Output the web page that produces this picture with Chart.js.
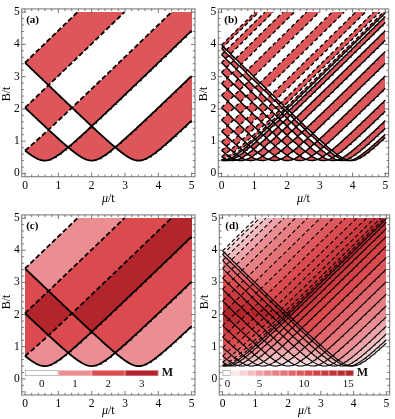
<!DOCTYPE html>
<html><head><meta charset="utf-8">
<script src="https://cdn.jsdelivr.net/npm/chart.js@4.4.1/dist/chart.umd.min.js"></script>
<style>
html,body{margin:0;padding:0;background:#fff;width:395px;height:419px;overflow:hidden}
canvas{position:absolute;display:block}
</style></head><body>
<canvas id="ca" width="197" height="206" style="left:0;top:0"></canvas>
<canvas id="cb" width="198" height="206" style="left:197px;top:0"></canvas>
<canvas id="cc" width="197" height="213" style="left:0;top:206px"></canvas>
<canvas id="cd" width="198" height="213" style="left:197px;top:206px"></canvas>
<script>
// ---------- data ----------
const muTicks = [0, 1, 2, 3, 4, 5];
const bTicks = [0, 1, 2, 3, 4, 5];
const gapDelta = 0.4;                       // lowest point of every boundary curve (B/t)
const bandsFew = [0.59, 2.00, 3.41];        // subband bottoms, panels (a),(c)
const bandsMany = [0.04, 0.15, 0.34, 0.59, 0.89, 1.24, 1.61, 2.00,
                   2.39, 2.76, 3.11, 3.41, 3.66, 3.85, 3.96]; // panels (b),(d)
const cbarTextC = ['0', '1', '2', '3'];
const cbarPosC = [0.5, 1.5, 2.5, 3.5];
const cbarTextD = ['0', '5', '10', '15'];
const cbarPosD = [0.15, 1.13, 2.49, 3.84];
const panelNames = ['(a)', '(b)', '(c)', '(d)'];

Chart.defaults.font.family = "'Liberation Serif', 'DejaVu Serif', serif";

// ---------- colours ----------
const parityRed = [221, 86, 90];
const rampStops = [[255,255,255],[234,142,147],[218,74,78],[178,38,43]];
function ramp(t){
  const s = Math.max(0, Math.min(1, t)) * 3;
  const i = Math.min(2, Math.floor(s)); const f = s - i;
  const a = rampStops[i], b = rampStops[i+1];
  return [0,1,2].map(k => Math.round(a[k] + (b[k]-a[k]) * f));
}
const rgb = c => `rgb(${c[0]},${c[1]},${c[2]})`;

// ---------- phase boundaries ----------
function muSamples(extra, end){
  const arr = [];
  for (let i = 0; i <= 200; i++){ const m = i * 0.025; if (m <= end) arr.push(m); }
  extra.forEach(v => { if (v > 0 && v < end) arr.push(v); });
  if (end < 5) arr.push(end);
  return arr.sort((a,b) => a-b);
}
const solidCurve = eps => muSamples([eps], 5).map(m => ({x:m, y:Math.hypot(gapDelta, m-eps)})).filter(p => p.y <= 5.0001);
const dashedCurve = eps => {
  const end = Math.sqrt(25 - gapDelta*gapDelta) - eps;
  return muSamples([], Math.min(5, end)).map(m => ({x:m, y:Math.min(5, Math.hypot(gapDelta, m+eps))}));
};
function countM(mu, B, bands){
  const N = bands.length; let M = 0;
  for (let n = 0; n < N; n++){
    const lo = Math.hypot(gapDelta, mu - bands[n]);
    const hi = Math.hypot(gapDelta, mu + bands[N-1-n]);
    if ((B > lo) !== (B > hi)) M++;
  }
  return M;
}

function makePanel(id, o){
  const datasets = [];
  o.bands.forEach(e => datasets.push({data: dashedCurve(e), borderDash: o.dash, borderWidth: o.lw, borderColor:'#000', showLine:true, pointRadius:0, fill:false}));
  o.bands.forEach(e => datasets.push({data: solidCurve(e), borderWidth: o.lw, borderColor:'#000', showLine:true, pointRadius:0, fill:false}));

  const regionPlugin = {
    id: 'region' + id,
    beforeDatasetsDraw(chart){
      const {ctx, scales:{x, y}} = chart;
      const px0 = Math.round(x.getPixelForValue(0)), px1 = Math.round(x.getPixelForValue(5));
      const py0 = Math.round(y.getPixelForValue(5)), py1 = Math.round(y.getPixelForValue(0));
      const w = px1 - px0, h = py1 - py0;
      const off = document.createElement('canvas'); off.width = w; off.height = h;
      const octx = off.getContext('2d'); const img = octx.createImageData(w, h);
      const N = o.bands.length;
      for (let j = 0; j < h; j++){
        const B = y.getValueForPixel(py0 + j + 0.5);
        for (let i = 0; i < w; i++){
          const mu = x.getValueForPixel(px0 + i + 0.5);
          const M = countM(mu, B, o.bands);
          if (M === 0) continue;
          let c;
          if (o.parity){ if (M % 2 === 0) continue; c = parityRed; }
          else c = ramp(M / N);
          const k = (j * w + i) * 4;
          img.data[k] = c[0]; img.data[k+1] = c[1]; img.data[k+2] = c[2]; img.data[k+3] = 255;
        }
      }
      octx.putImageData(img, 0, 0);
      ctx.drawImage(off, px0, py0);
    }
  };

  const decorPlugin = {
    id: 'decor' + id,
    afterDraw(chart){
      const {ctx, chartArea:a, scales:{x, y}} = chart;
      ctx.save();
      // colour bar
      if (o.cbar){
        const n = o.cbarLevels, wv = 4 / n;
        const yt = y.getPixelForValue(0.27), yb = y.getPixelForValue(0.09);
        for (let k = 0; k < n; k++){
          const xl = x.getPixelForValue(k*wv), xr = x.getPixelForValue((k+1)*wv);
          ctx.fillStyle = rgb(ramp(k/(n-1)));
          ctx.fillRect(xl, yt, xr-xl, yb-yt);
          ctx.strokeStyle = k === 0 ? '#a0a0a0' : 'rgba(255,255,255,0.45)';
          ctx.lineWidth = 0.7;
          ctx.strokeRect(xl+0.35, yt+0.35, xr-xl-0.7, yb-yt-0.7);
        }
        ctx.fillStyle = '#111';
        ctx.font = "11px 'Liberation Serif'"; ctx.textAlign = 'center'; ctx.textBaseline = 'middle';
        o.cbarText.forEach((t, i) => ctx.fillText(t, x.getPixelForValue(o.cbarPos[i]), y.getPixelForValue(-0.15)));
        ctx.font = "bold 12px 'Liberation Serif'"; ctx.textAlign = 'left';
        ctx.fillText('M', x.getPixelForValue(4.1), (yt+yb)/2);
      }
      // frame
      ctx.strokeStyle = '#8a8a8a'; ctx.lineWidth = 1.2;
      ctx.strokeRect(a.left, a.top, a.right - a.left, a.bottom - a.top);
      // ticks (inward, all four sides)
      ctx.strokeStyle = '#555'; ctx.lineWidth = 0.8;
      ctx.beginPath();
      for (let i = -5; i <= 26; i++){
        const v = i * 0.2; const major = i % 5 === 0; const L = major ? 4 : 2.2;
        if (v >= x.min && v <= x.max){
          const px = x.getPixelForValue(v);
          ctx.moveTo(px, a.bottom); ctx.lineTo(px, a.bottom - L);
          ctx.moveTo(px, a.top); ctx.lineTo(px, a.top + L);
        }
        if (v >= y.min && v <= y.max){
          const py = y.getPixelForValue(v);
          ctx.moveTo(a.left, py); ctx.lineTo(a.left + L, py);
          ctx.moveTo(a.right, py); ctx.lineTo(a.right - L, py);
        }
      }
      ctx.stroke();
      // panel label
      ctx.fillStyle = '#000';
      ctx.font = "bold 11px 'Liberation Serif'"; ctx.textAlign = 'left'; ctx.textBaseline = 'middle';
      ctx.fillText(o.name, a.left + o.labDx, a.top + 11);
      // x title  mu/t
      ctx.textBaseline = 'middle';
      ctx.font = "italic 12px 'Liberation Serif'"; const w1 = ctx.measureText('\u03BC').width;
      ctx.font = "12px 'Liberation Serif'"; const w2 = ctx.measureText('/t').width;
      const cx = (a.left + a.right)/2 - (w1 + w2)/2;
      ctx.font = "italic 12px 'Liberation Serif'"; ctx.fillText('\u03BC', cx, o.xTitleY);
      ctx.font = "12px 'Liberation Serif'"; ctx.fillText('/t', cx + w1, o.xTitleY);
      // y title  B/t
      ctx.translate(o.yTitleX, o.yTitleY); ctx.rotate(-Math.PI/2);
      ctx.textAlign = 'center'; ctx.fillText('B/t', 0, 0);
      ctx.restore();
    }
  };

  return new Chart(document.getElementById(id), {
    type: 'scatter',
    data: {datasets},
    options: {
      responsive: false, animation: false, devicePixelRatio: 1, events: [],
      layout: {padding: {top: o.padT, right: o.padR, left: 0, bottom: 0}},
      plugins: {legend: {display: false}, tooltip: {enabled: false}},
      elements: {line: {tension: 0}},
      scales: {
        x: {type: 'linear', min: -0.1, max: 5.1,
            grid: {display: false, drawTicks: false}, border: {display: false},
            ticks: {padding: 2, color: '#000', font: {size: 11.5, family: "'Liberation Serif'"}, maxRotation: 0, autoSkip: false, callback: v => String(v)},
            afterBuildTicks: s => { s.ticks = muTicks.map(v => ({value: v})); },
            afterFit: s => { s.height = o.xH; }},
        y: {type: 'linear', min: o.yMin, max: 5.1,
            grid: {display: false, drawTicks: false}, border: {display: false},
            ticks: {padding: 2, color: '#000', font: {size: 11.5, family: "'Liberation Serif'"}, autoSkip: false, callback: v => String(v)},
            afterBuildTicks: s => { s.ticks = bTicks.map(v => ({value: v})); },
            afterFit: s => { s.width = o.yW; }}
      }
    },
    plugins: [regionPlugin, decorPlugin]
  });
}

makePanel('ca', {bands: bandsFew, parity: true, lw: 1.8, dash: [5, 2.5], name: panelNames[0], labDx: 4.5,
  padT: 3.3, padR: 2, yW: 21.7, xH: 29.3, yMin: -0.1, xTitleY: 199, yTitleX: 7, yTitleY: 94});
makePanel('cb', {bands: bandsMany, parity: true, lw: 1.4, dash: [4, 2.5], name: panelNames[1], labDx: 6,
  padT: 3.3, padR: 6.4, yW: 21.3, xH: 29.3, yMin: -0.1, xTitleY: 199, yTitleX: 7, yTitleY: 94});
makePanel('cc', {bands: bandsFew, parity: false, lw: 1.8, dash: [5, 2.5], name: panelNames[2], labDx: 4.5,
  padT: 2.3, padR: 2, yW: 21.7, xH: 24, yMin: -0.5, xTitleY: 205, yTitleX: 7, yTitleY: 96,
  cbar: true, cbarLevels: 4, cbarText: cbarTextC, cbarPos: cbarPosC});
makePanel('cd', {bands: bandsMany, parity: false, lw: 1.1, dash: [4, 2.5], name: panelNames[3], labDx: 6,
  padT: 2.3, padR: 5.4, yW: 22.3, xH: 24, yMin: -0.5, xTitleY: 205, yTitleX: 8, yTitleY: 96,
  cbar: true, cbarLevels: 16, cbarText: cbarTextD, cbarPos: cbarPosD});
</script>
</body></html>
